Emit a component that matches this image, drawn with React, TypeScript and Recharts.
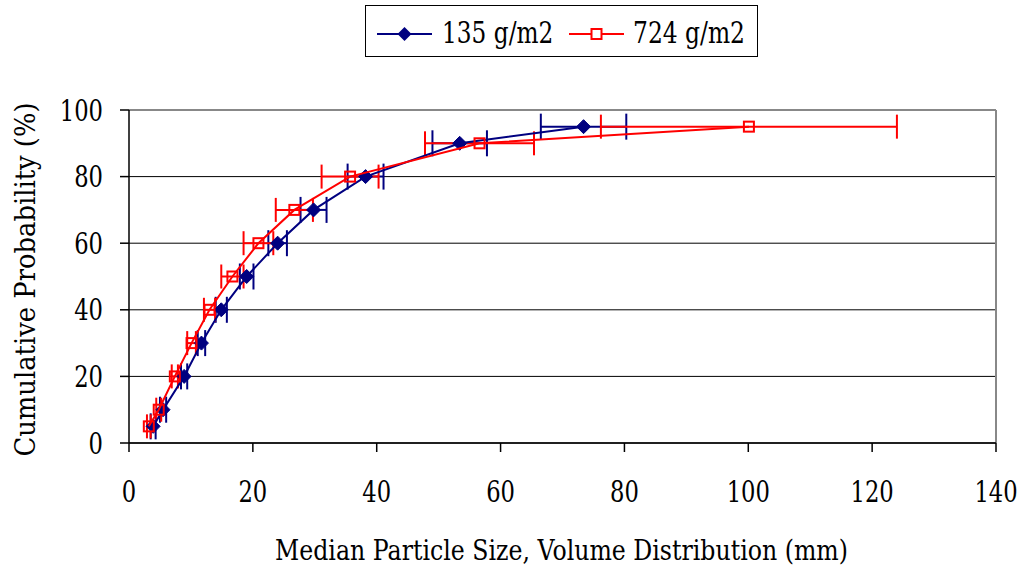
import React from 'react';
import { ScatterChart, Scatter, XAxis, YAxis, CartesianGrid, ErrorBar, ReferenceLine, Legend } from 'recharts';

const probabilities = [5, 10, 20, 30, 40, 50, 60, 70, 80, 90, 95];
const size135 = [3.9, 5.5, 8.9, 11.7, 14.9, 19.0, 24.0, 29.8, 38.2, 53.4, 73.4];
const err135 = [0.4, 0.5, 0.5, 0.6, 0.9, 1.1, 1.5, 2.1, 2.9, 4.4, 6.9];
const size724 = [3.2, 4.8, 7.4, 10.1, 13.0, 16.7, 20.9, 26.7, 35.7, 56.6, 100.1];
const err724 = [0.3, 0.4, 0.5, 0.7, 0.9, 1.8, 2.4, 3.0, 4.6, 8.8, 23.9];
const xTicks = [0, 20, 40, 60, 80, 100, 120, 140];
const yTicks = [0, 20, 40, 60, 80, 100];
const seriesNames = ['135 g/m2', '724 g/m2'];
const xTitle = 'Median Particle Size, Volume Distribution (mm)';
const yTitle = 'Cumulative Probability (%)';

const data135 = probabilities.map((p, i) => ({ x: size135[i], y: p, ex: err135[i] }));
const data724 = probabilities.map((p, i) => ({ x: size724[i], y: p, ex: err724[i] }));

const FONT = 'DejaVu Serif';
const BLUE = '#000080';
const RED = '#FF0000';
const SQUEEZE = 0.755;

const Diamond = (props: any) => {
  const { cx, cy } = props;
  if (cx == null || cy == null) return null;
  const r = 7;
  return <path d={`M${cx},${cy - r}L${cx + r},${cy}L${cx},${cy + r}L${cx - r},${cy}Z`} fill={BLUE} stroke={BLUE} strokeWidth={1} />;
};

const Square = (props: any) => {
  const { cx, cy } = props;
  if (cx == null || cy == null) return null;
  const r = 5;
  return <rect x={cx - r} y={cy - r} width={2 * r} height={2 * r} fill="none" stroke={RED} strokeWidth={2} />;
};

const XTick = (props: any) => {
  const { x, y, payload } = props;
  return (
    <g transform={`translate(${x},${y}) scale(${SQUEEZE},1)`}>
      <text x={0} y={0} dy="0.71em" textAnchor="middle" fontFamily={FONT} fontSize={30} fill="#000">
        {String(payload.value)}
      </text>
    </g>
  );
};

const YTick = (props: any) => {
  const { x, y, payload } = props;
  return (
    <g transform={`translate(${x},${y}) scale(${SQUEEZE},1)`}>
      <text x={0} y={0} dy="0.355em" textAnchor="end" fontFamily={FONT} fontSize={30} fill="#000">
        {String(payload.value)}
      </text>
    </g>
  );
};

const renderLegend = () => (
  <div style={{ width: 393, height: 52, border: '1px solid #000', boxSizing: 'border-box', background: '#fff' }}>
    <svg width={391} height={50} style={{ display: 'block' }}>
      <line x1={11} y1={28} x2={66} y2={28} stroke={BLUE} strokeWidth={2} />
      <path d="M38.5,21L45.5,28L38.5,35L31.5,28Z" fill={BLUE} />
      <g transform="translate(76,37) scale(0.775,1)">
        <text x={0} y={0} fontFamily={FONT} fontSize={30} fill="#000">{seriesNames[0]}</text>
      </g>
      <line x1={203} y1={28} x2={258} y2={28} stroke={RED} strokeWidth={2} />
      <rect x={225.5} y={23} width={10} height={10} fill="#fff" stroke={RED} strokeWidth={2} />
      <g transform="translate(267,37) scale(0.78,1)">
        <text x={0} y={0} fontFamily={FONT} fontSize={30} fill="#000">{seriesNames[1]}</text>
      </g>
    </svg>
  </div>
);

const YTitle = (props: any) => {
  const vb = props.viewBox || {};
  const cx = 35;
  const cy = (vb.y ?? 110) + (vb.height ?? 333) / 2 + 3;
  return (
    <text x={cx} y={cy} transform={`rotate(-90, ${cx}, ${cy})`} textAnchor="middle" fontFamily={FONT} fontSize={27.5} fill="#000" textLength={354} lengthAdjust="spacingAndGlyphs">
      {yTitle}
    </text>
  );
};

const XTitle = (props: any) => {
  const vb = props.viewBox || {};
  const cx = (vb.x ?? 129) + (vb.width ?? 867) / 2 - 1;
  const y = (vb.y ?? 443) + 117;
  return (
    <text x={cx} y={y} textAnchor="middle" fontFamily={FONT} fontSize={27.5} fill="#000" textLength={573} lengthAdjust="spacingAndGlyphs">
      {xTitle}
    </text>
  );
};

export default function App() {
  return (
    <div style={{ position: 'absolute', left: 0, top: 0, background: '#fff' }}>
      <ScatterChart width={1021} height={567} margin={{ top: 110, right: 25, bottom: 64, left: 0 }}>
        <CartesianGrid horizontal={true} vertical={false} stroke="#000" strokeWidth={1} />
        <XAxis
          type="number"
          dataKey="x"
          domain={[0, 140]}
          ticks={xTicks}
          interval={0}
          height={60}
          tickSize={9}
          tickMargin={29}
          stroke="#000"
          strokeWidth={1.5}
          tick={<XTick />}
          label={<XTitle />}
        />
        <YAxis
          type="number"
          dataKey="y"
          domain={[0, 100]}
          ticks={yTicks}
          interval={0}
          width={129}
          tickSize={9}
          tickMargin={17}
          stroke="#000"
          strokeWidth={1.5}
          tick={<YTick />}
          label={<YTitle />}
        />
        <ReferenceLine y={100} stroke="#888" strokeWidth={2} />
        <ReferenceLine x={140} stroke="#888" strokeWidth={2} />
        <Legend
          content={renderLegend}
          layout="horizontal"
          verticalAlign="middle"
          align="center"
          wrapperStyle={{ position: 'absolute', top: 5, left: 365, width: 393, height: 52 }}
        />
        <Scatter name={seriesNames[0]} data={data135} line={{ stroke: BLUE, strokeWidth: 2 }} lineType="joint" shape={<Diamond />} isAnimationActive={false}>
          <ErrorBar dataKey="ex" direction="x" width={13} stroke={BLUE} strokeWidth={2} />
        </Scatter>
        <Scatter name={seriesNames[1]} data={data724} line={{ stroke: RED, strokeWidth: 2 }} lineType="joint" shape={<Square />} isAnimationActive={false}>
          <ErrorBar dataKey="ex" direction="x" width={12} stroke={RED} strokeWidth={2} />
        </Scatter>
      </ScatterChart>
    </div>
  );
}
